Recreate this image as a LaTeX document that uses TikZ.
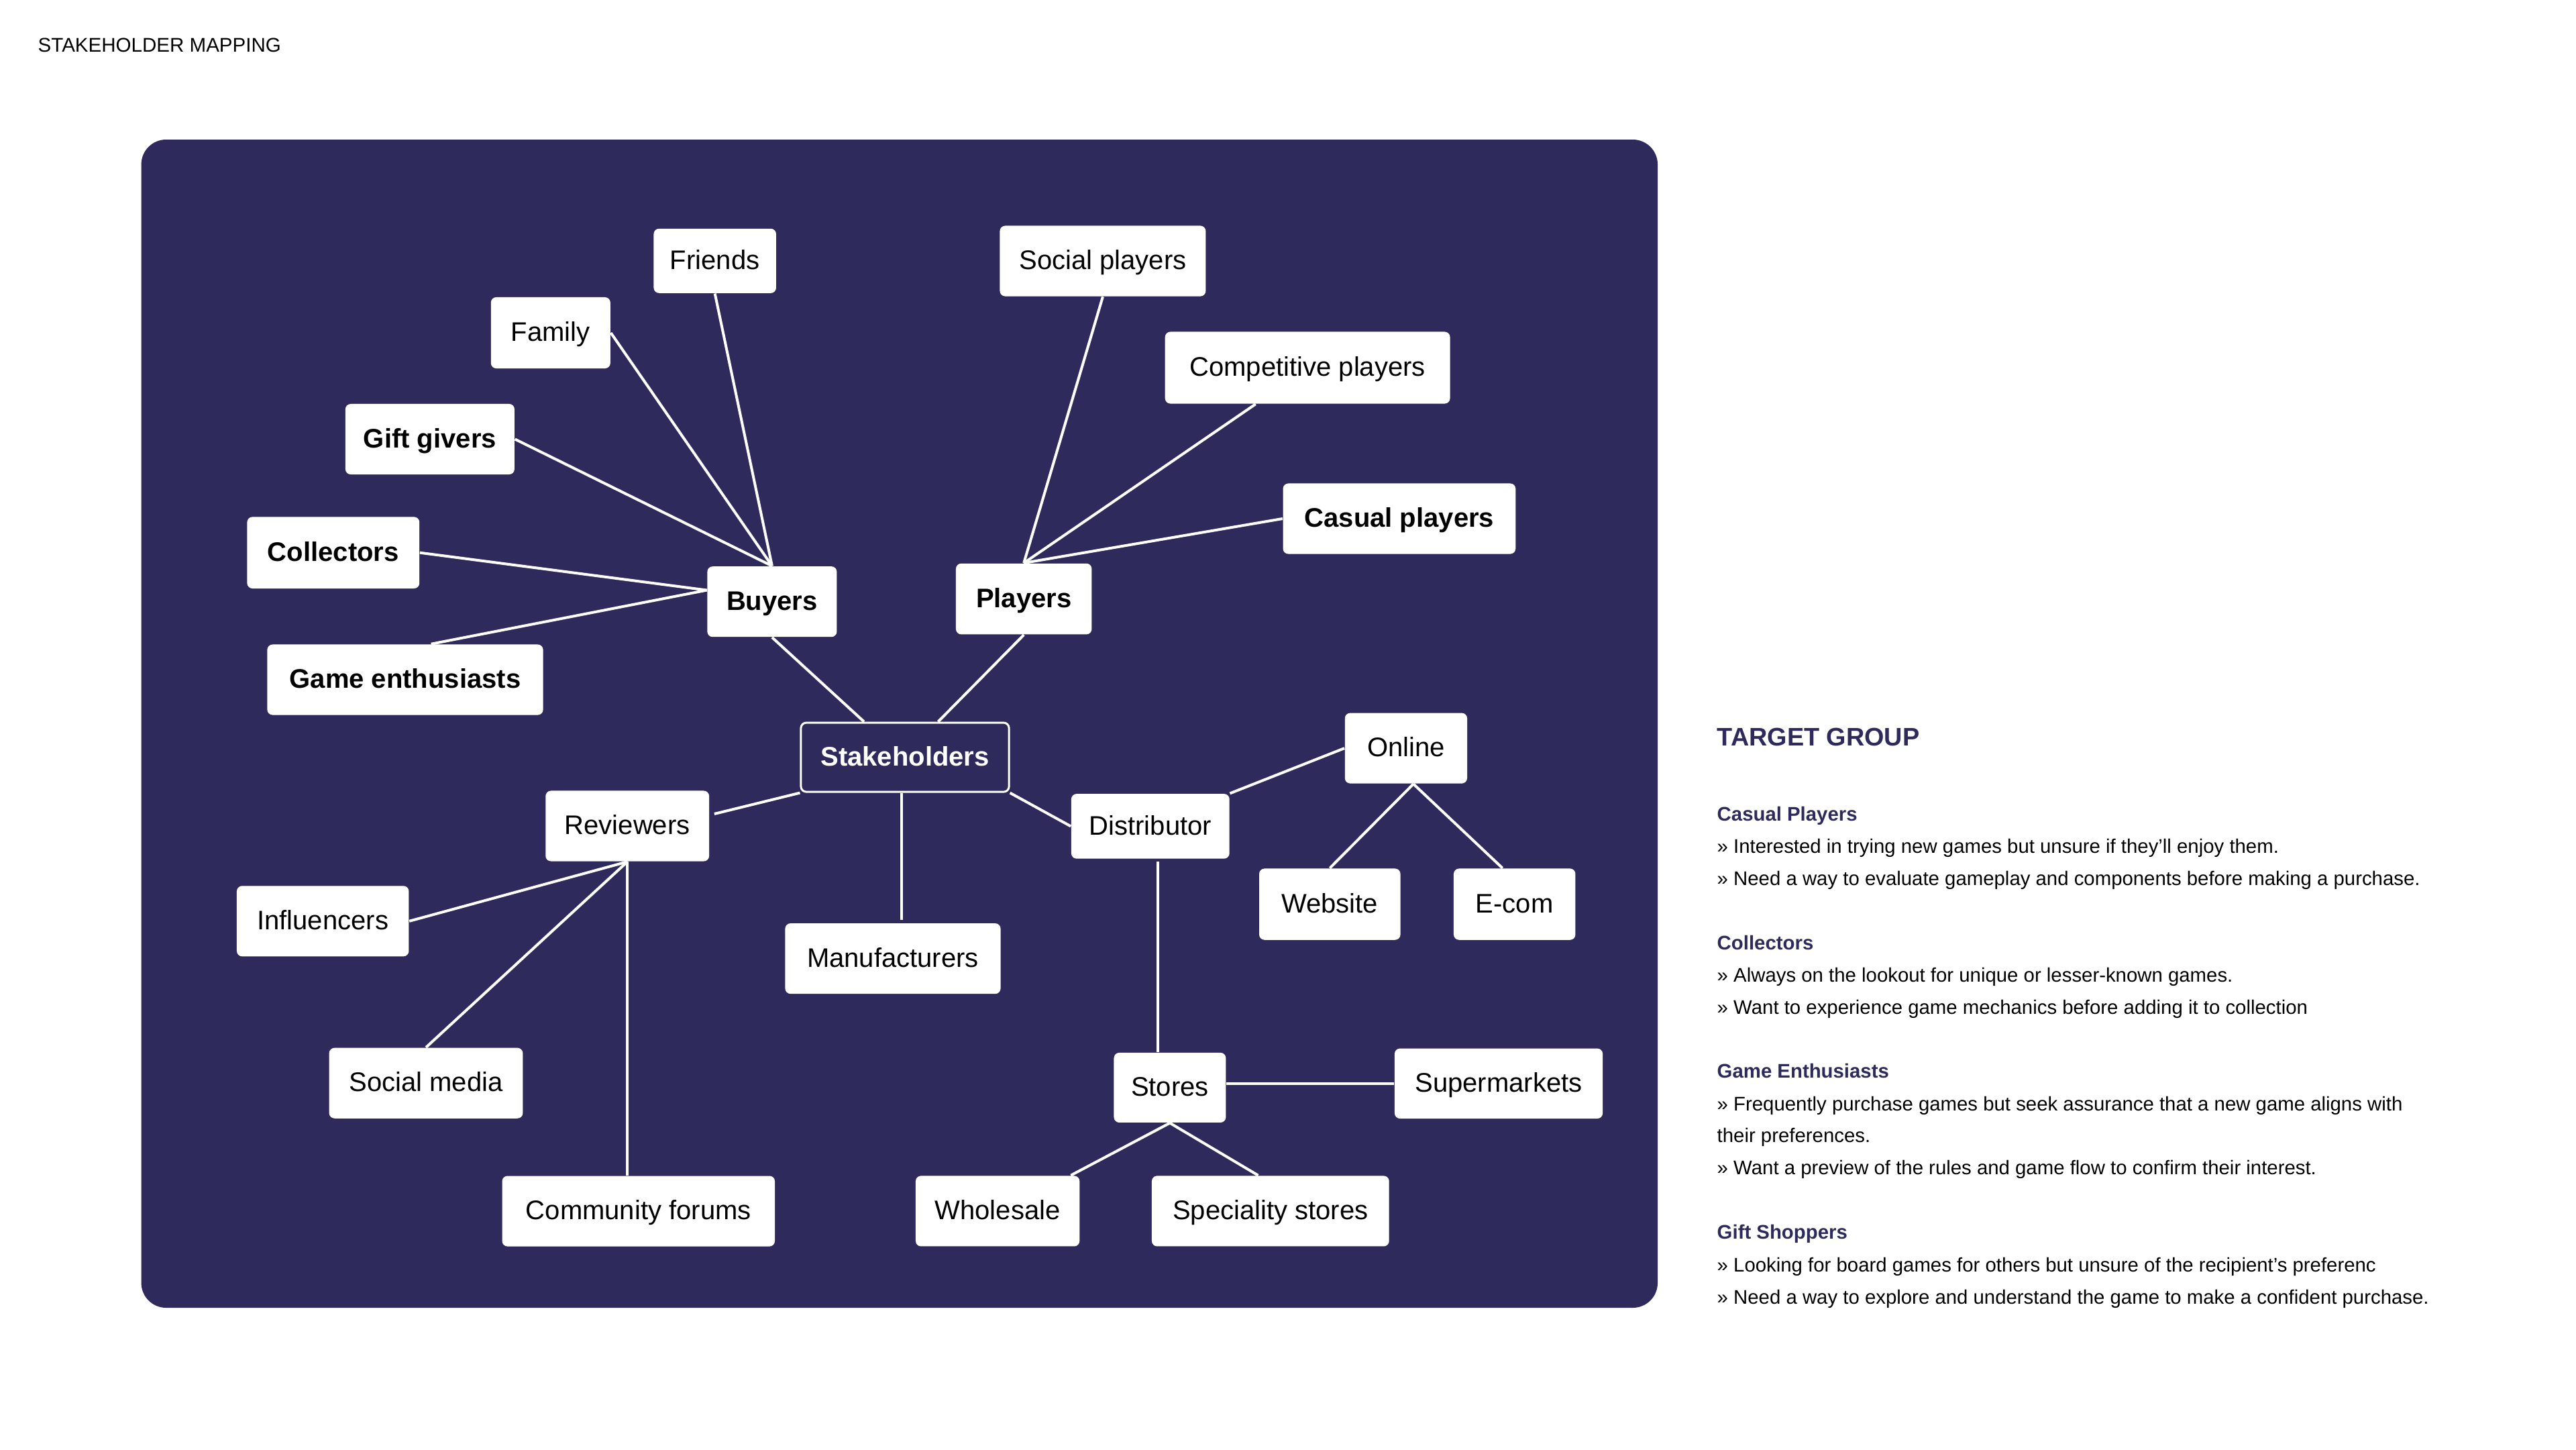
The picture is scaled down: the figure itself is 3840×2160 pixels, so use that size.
\documentclass[tikz,border=0pt]{standalone}
\usepackage{fontspec}
\setmainfont{Liberation Sans}
\usetikzlibrary{calc}
\definecolor{navy}{HTML}{2E2B5C}
\begin{document}
\begin{tikzpicture}[x=0.01cm,y=-0.01cm,
  box/.style={fill=white, rounded corners=0.08cm, inner sep=0pt, text height=0.716em, text depth=0pt,
    font=\fontsize{11.38}{13}\selectfont, align=center, minimum height=1.05cm},
  bbox/.style={box, font=\fontsize{11.38}{13}\selectfont\bfseries},
  hub/.style={draw=white, line width=0.03cm, fill=navy, text=white, rounded corners=0.08cm, inner sep=0pt,
    text height=0.716em, text depth=0pt, font=\fontsize{11.38}{13}\selectfont\bfseries},
  link/.style={draw=white, line width=0.04cm},
  ttl/.style={anchor=base west, inner sep=0pt, font=\fontsize{10.75}{13}\selectfont\bfseries, text=navy},
  head/.style={anchor=base west, inner sep=0pt, font=\fontsize{8.35}{10}\selectfont\bfseries, text=navy},
  body/.style={anchor=base west, inner sep=0pt, font=\fontsize{8.35}{10}\selectfont, text=black},
]
\useasboundingbox (0,0) rectangle (3840,2160);
\fill[white] (0,0) rectangle (3840,2160);
\node[anchor=base west, inner sep=0pt, font=\fontsize{8.4}{10}\selectfont] (title) at (56,77) {STAKEHOLDER MAPPING};
\fill[navy, rounded corners=0.37cm] (210.6,208) rectangle (2471,1949);

% nodes
\node[box, minimum width=1.824cm, minimum height=0.96cm] (friends) at (1065.7,388.8) {Friends};
\node[box, minimum width=1.78cm, minimum height=1.06cm] (family) at (820.8,496) {Family};
\node[bbox, minimum width=2.52cm] (gift) at (640.9,654.5) {Gift givers};
\node[bbox, minimum width=2.567cm, minimum height=1.066cm] (collectors) at (496.8,823.7) {Collectors};
\node[bbox, minimum width=4.11cm] (game) at (604,1013) {Game enthusiasts};
\node[bbox, minimum width=1.93cm] (buyers) at (1150.9,896.7) {Buyers};
\node[box, minimum width=3.068cm] (social) at (1643.9,389) {Social players};
\node[box, minimum width=4.246cm, minimum height=1.07cm] (comp) at (1949.1,548) {Competitive players};
\node[bbox, minimum width=3.466cm] (casual) at (2085.9,773) {Casual players};
\node[bbox, minimum width=2.024cm, minimum height=1.056cm] (players) at (1526.2,892.6) {Players};
\node[hub, minimum width=3.1cm, minimum height=1.03cm] (stake) at (1349,1128.6) {Stakeholders};
\node[box, minimum width=2.437cm] (reviewers) at (935.2,1231) {Reviewers};
\node[box, minimum width=2.563cm] (influencers) at (481.2,1372.8) {Influencers};
\node[box, minimum width=2.886cm] (socialmedia) at (635,1614.2) {Social media};
\node[box, minimum width=4.063cm] (forums) at (951.8,1805) {Community forums};
\node[box, minimum width=3.21cm] (manu) at (1331,1428.6) {Manufacturers};
\node[box, minimum width=2.357cm, minimum height=0.965cm] (distr) at (1714.8,1231.4) {Distributor};
\node[box, minimum width=1.822cm] (online) at (2095.9,1115.1) {Online};
\node[box, minimum width=2.105cm, minimum height=1.062cm] (website) at (1982.3,1347.6) {Website};
\node[box, minimum width=1.814cm, minimum height=1.062cm] (ecom) at (2257.7,1347.6) {E-com};
\node[box, minimum width=1.668cm, minimum height=1.04cm] (stores) at (1743.9,1620.9) {Stores};
\node[box, minimum width=3.10cm, minimum height=1.044cm] (super) at (2234,1614.8) {Supermarkets};
\node[box, minimum width=2.442cm] (wholesale) at (1487.1,1804.9) {Wholesale};
\node[box, minimum width=3.536cm] (special) at (1893.8,1804.9) {Speciality stores};

% connectors
\draw[link] (friends.south) -- (buyers.north);
\draw[link] (family.east) -- (buyers.north);
\draw[link] (gift.east) -- (buyers.north);
\draw[link] (collectors.east) -- (buyers.170);
\draw[link] (game.54) -- (buyers.170);
\draw[link] (buyers.south) -- (stake.139);
\draw[link] (players.south) -- (stake.47);
\draw[link] (social.south) -- (players.north);
\draw[link] (comp.215) -- (players.north);
\draw[link] (casual.west) -- (players.north);
\draw[link] (stake.south west) -- ($(reviewers.east)+(7,-18)$);
\draw[link] ($(stake.south)+(-5,0)$) -- ($(stake.south |- manu.north)+(-5,-4)$);
\draw[link] (stake.south east) -- (distr.west);
\draw[link] (reviewers.south) -- (influencers.east);
\draw[link] (reviewers.south) -- (socialmedia.north);
\draw[link] (reviewers.south) -- (reviewers.south |- forums.north);
\draw[link] (distr.north east) -- (online.west);
\draw[link] ($(online.south)+(11,0)$) -- (website.north);
\draw[link] ($(online.south)+(11,0)$) -- ($(ecom.north)+(-18,0)$);
\draw[link] ($(distr.south)+(11.5,4)$) -- ($(distr.south |- stores.north)+(11.5,0)$);
\draw[link] (stores.east |- super.west) -- (super.west);
\draw[link] (stores.south) -- (wholesale.26);
\draw[link] (stores.south) -- (special.109);

% target group text
\node[ttl] (tg) at (2559,1111.7) {TARGET GROUP};
\node[head] (h1) at (2559,1223.3) {Casual Players};
\node[body] (l1a) at (2559,1271.7) {» Interested in trying new games but unsure if they’ll enjoy them.};
\node[body] (l1b) at (2559,1319.3) {» Need a way to evaluate gameplay and components before making a purchase.};
\node[head] (h2) at (2559,1415.7) {Collectors};
\node[body] (l2a) at (2559,1463.3) {» Always on the lookout for unique or lesser-known games.};
\node[body] (l2b) at (2559,1511.7) {» Want to experience game mechanics before adding it to collection};
\node[head] (h3) at (2559,1606.7) {Game Enthusiasts};
\node[body] (l3a) at (2559,1655) {» Frequently purchase games but seek assurance that a new game aligns with};
\node[body] (l3b) at (2559,1702.7) {their preferences.};
\node[body] (l3c) at (2559,1750) {» Want a preview of the rules and game flow to confirm their interest.};
\node[head] (h4) at (2559,1846.7) {Gift Shoppers};
\node[body] (l4a) at (2559,1895) {» Looking for board games for others but unsure of the recipient’s preferenc};
\node[body] (l4b) at (2559,1943.3) {» Need a way to explore and understand the game to make a confident purchase.};
\end{tikzpicture}
\end{document}
